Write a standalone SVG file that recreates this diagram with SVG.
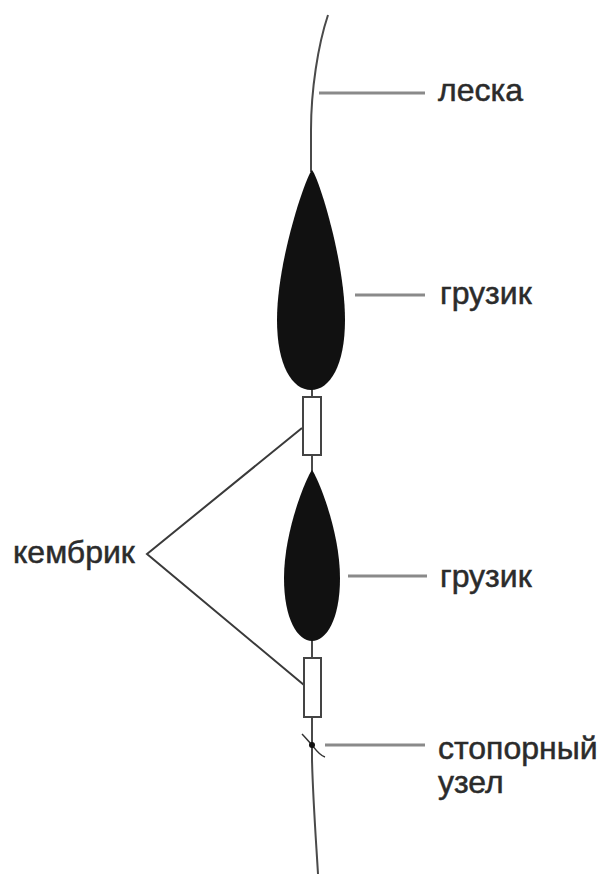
<svg xmlns="http://www.w3.org/2000/svg" width="600" height="874" viewBox="0 0 600 874">
  <style>
    .line { fill: none; stroke: #4a4a4a; stroke-width: 2; }
    .leader { fill: none; stroke: #8a8a8a; stroke-width: 3; }
    .pointer { fill: none; stroke: #3a3a3a; stroke-width: 2; }
    .sinker { fill: #111; }
    .tube { fill: #fff; stroke: #444; stroke-width: 2; }
    .label { font-family: "Liberation Sans", Arial, sans-serif; font-size: 32px; fill: #2b2b2b; stroke: #2b2b2b; stroke-width: 0.5; }
  </style>
  <rect width="600" height="874" fill="#fff"/>

  <!-- fishing line -->
  <g id="connectors">
    <path class="line" d="M328,15 C318,45 311,90 311,130 L311,172"/>
    <path class="line" d="M312,388 L312,398"/>
    <path class="line" d="M312,454 L312,472"/>
    <path class="line" d="M312,638 L312,659"/>
    <path class="line" d="M312,716 L312,760 C313,800 316,840 318,874"/>
    <!-- pointers from the label to both tubes -->
    <polyline class="pointer" points="302,428 147,554 304,685"/>
    <!-- leader lines -->
    <line class="leader" x1="319" y1="93" x2="425" y2="93"/>
    <line class="leader" x1="355" y1="295" x2="425" y2="295"/>
    <line class="leader" x1="348" y1="576" x2="427" y2="576"/>
    <line class="leader" x1="325" y1="745" x2="425" y2="745"/>
  </g>

  <g id="sinker-upper">
    <path class="sinker" d="M312,170 C318,176 345,260 345,320 C345,365 330,390 311,390 C292,390 277,365 277,320 C277,260 306,176 312,170 Z"/>
  </g>
  <g id="tube-upper">
    <rect class="tube" x="303" y="397" width="18" height="58"/>
  </g>
  <g id="sinker-lower">
    <path class="sinker" d="M312,470 C317,476 340,530 340,578 C340,620 326,641 312,641 C298,641 284,620 284,578 C284,530 307,476 312,470 Z"/>
  </g>
  <g id="tube-lower">
    <rect class="tube" x="304" y="658" width="17" height="59"/>
  </g>
  <g id="stop-knot">
    <path fill="none" stroke="#333" stroke-width="1.5" d="M302,734 C306,738 309,742 312,745 C316,750 319,755 325,757"/>
    <circle cx="312" cy="745" r="3" fill="#111"/>
  </g>

  <g id="labels">
    <text class="label" x="438" y="101">леска</text>
    <text class="label" x="440" y="304">грузик</text>
    <text class="label" x="13" y="563">кембрик</text>
    <text class="label" x="440" y="587">грузик</text>
    <text class="label" x="438" y="759">стопорный</text>
    <text class="label" x="438" y="793">узел</text>
  </g>
</svg>
